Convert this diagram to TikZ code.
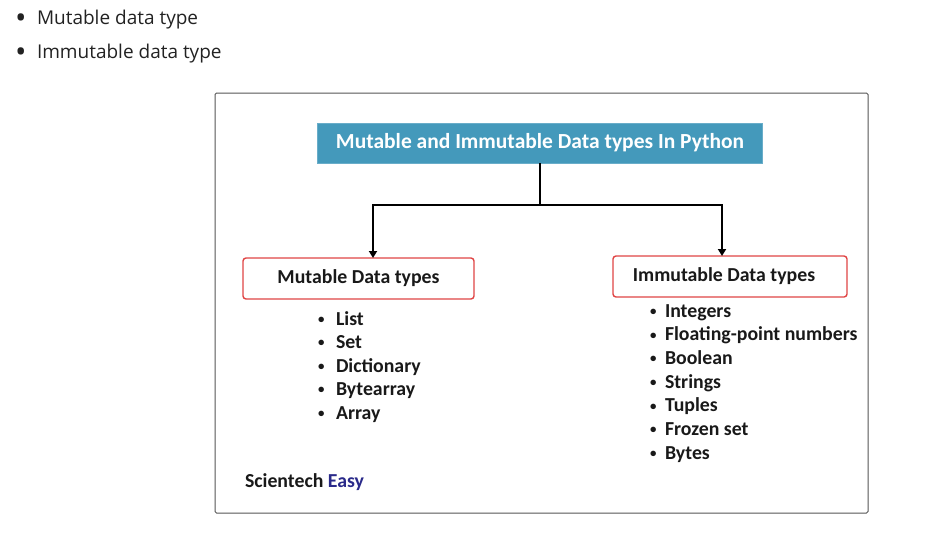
\documentclass[tikz,border=0pt]{standalone}
\usepackage{fontspec}
\usepackage{graphicx}
\setmainfont{Carlito}
\newfontfamily\webfont{Open Sans}
\usetikzlibrary{arrows.meta}
\definecolor{titlebg}{HTML}{4499BB}
\definecolor{boxred}{HTML}{E04545}
\definecolor{frame}{HTML}{555555}
\definecolor{webtext}{HTML}{222222}
\definecolor{easyblue}{HTML}{2A2A8A}
\newcommand\smbul{\raisebox{1.6pt}{\scalebox{0.65}{•}}}
\newcommand\bgbul{\raisebox{-5pt}{\scalebox{1.6}{•}}}
\begin{document}
\begin{tikzpicture}[x=1pt,y=-1pt,
  every node/.style={inner sep=0pt,outer sep=0pt},
  webitem/.style={anchor=base west,font=\webfont\fontsize{19}{22}\selectfont,text=webtext},
  titlebox/.style={fill=titlebg,draw=titlebg!80!white,line width=0.8pt,minimum width=445pt,minimum height=40pt,text=white,font=\bfseries\fontsize{21.5}{25}\selectfont},
  catbox/.style={draw=boxred,line width=1.4pt,rounded corners=3pt,fill=white,minimum height=41pt,font=\bfseries\fontsize{19.8}{23}\selectfont,text=black!90},
  listitem/.style={anchor=base west,font=\bfseries\fontsize{19.8}{23}\selectfont,text=black!90},
  arr/.style={line width=2pt,-{Triangle[width=8pt,length=7pt]}},
  conn/.style={line width=2pt}]
\useasboundingbox (0,0) rectangle (929,538);
% top bullets
\node[webitem] (b1) at (15,24) {\makebox[22pt][l]{\bgbul}Mutable data type};
\node[webitem] (b2) at (15,58) {\makebox[22pt][l]{\bgbul}Immutable data type};
% frame
\node[draw=frame,line width=1pt,rounded corners=1.5pt,minimum width=653pt,minimum height=420pt] (frm) at (541.5,303) {};
% title
\node[titlebox] (title) at (540,143) {Mutable and Immutable Data types In Python};
% boxes
\node[catbox,minimum width=231pt] (left) at (358.5,278.5) {Mutable Data types};
\node[catbox,minimum width=234pt] (right) at (730,276.5) {Immutable Data types\rule{12pt}{0pt}};
% connectors
\coordinate (j) at (540,205);
\draw[conn] (title.south) -- (j);
\draw[arr] (j) -| ([xshift=14.5pt]left.north);
\draw[arr] (j) -| ([xshift=-8pt]right.north);
% left list
\node[listitem] (l1) at (318,325) {\makebox[18pt][l]{\smbul}List};
\node[listitem] (l2) at (318,348.5) {\makebox[18pt][l]{\smbul}Set};
\node[listitem] (l3) at (318,372) {\makebox[18pt][l]{\smbul}Dictionary};
\node[listitem] (l4) at (318,395.5) {\makebox[18pt][l]{\smbul}Bytearray};
\node[listitem] (l5) at (318,419) {\makebox[18pt][l]{\smbul}Array};
% right list
\node[listitem] (r1) at (650,317) {\makebox[15pt][l]{\smbul}Integers};
\node[listitem] (r2) at (650,340.7) {\makebox[15pt][l]{\smbul}Floating-point numbers};
\node[listitem] (r3) at (650,364.4) {\makebox[15pt][l]{\smbul}Boolean};
\node[listitem] (r4) at (650,388.1) {\makebox[15pt][l]{\smbul}Strings};
\node[listitem] (r5) at (650,411.8) {\makebox[15pt][l]{\smbul}Tuples};
\node[listitem] (r6) at (650,435.5) {\makebox[15pt][l]{\smbul}Frozen set};
\node[listitem] (r7) at (650,459.2) {\makebox[15pt][l]{\smbul}Bytes};
% brand
\node[listitem] (brand) at (245,487) {Scientech \textcolor{easyblue}{Easy}};
\end{tikzpicture}
\end{document}
